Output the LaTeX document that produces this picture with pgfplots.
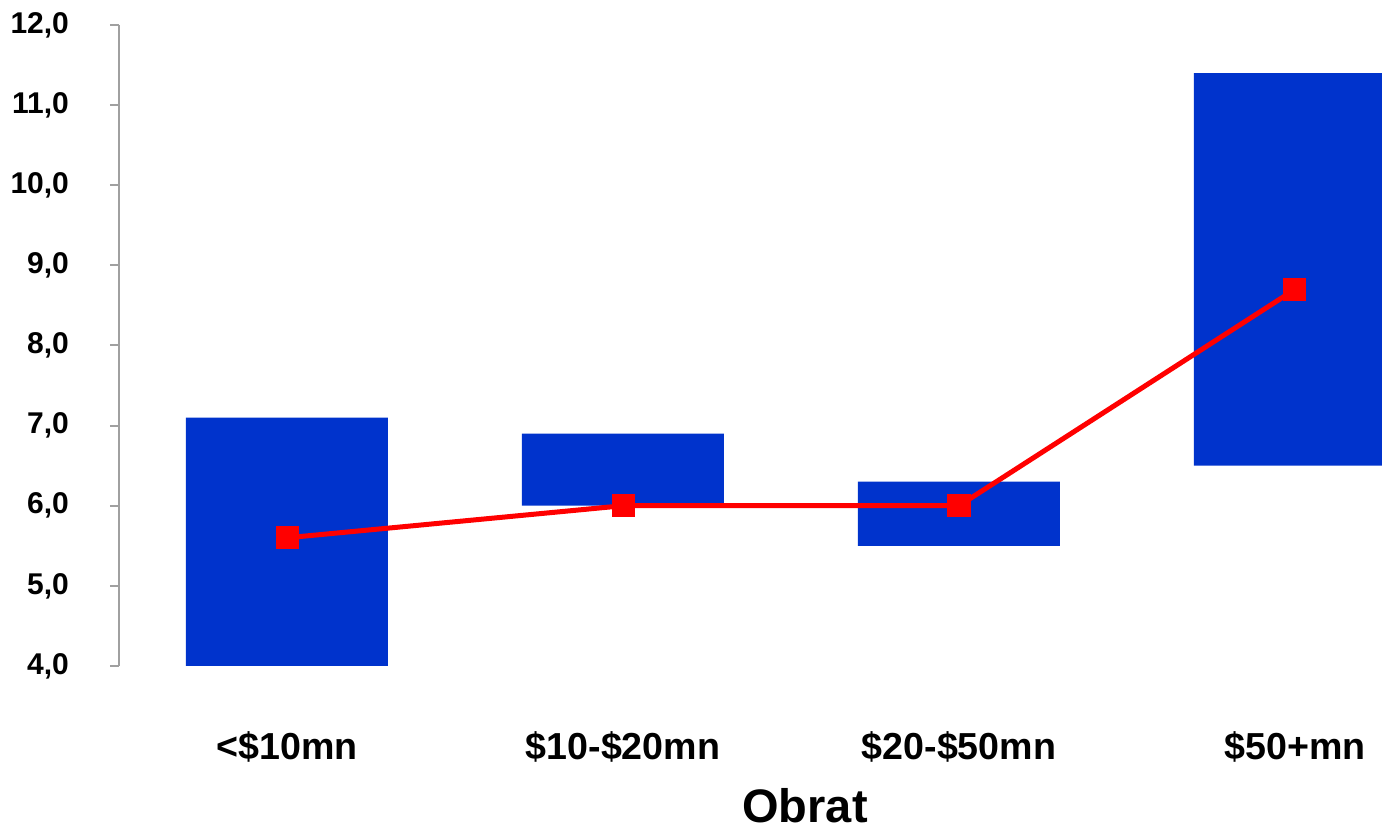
\documentclass[border=0pt]{standalone}
\usepackage{pgfplots}
\pgfplotsset{compat=1.18}
\usepackage{fontspec}
\setmainfont{Liberation Sans}
\definecolor{barblue}{RGB}{0,51,204}
\definecolor{axgray}{RGB}{160,160,160}
\begin{document}
\begin{tikzpicture}
\begin{axis}[name=main,
  scale only axis, width=631.5pt, height=320.5pt,
  xmin=-0.5, xmax=3.259, ymin=4, ymax=12,
  ybar stacked, bar width=101pt,
  axis y line*=left, axis x line*=bottom,
  x axis line style={draw=none},
  y axis line style={draw=axgray, line width=1pt},
  ytick={4,5,...,12},
  ytick style={draw=axgray, line width=1pt},
  tick align=outside, major tick length=4.5pt,
  xtick={0,1,2,3},
  xticklabels={{<\$10mn},{\$10-\$20mn},{\$20-\$50mn},{\$50+mn}},
  xtick style={draw=none},
  xticklabel style={font=\fontsize{18.8}{21}\selectfont\bfseries, anchor=center, yshift=-36pt},
  yticklabel style={font=\fontsize{15}{17}\selectfont\bfseries, anchor=east, xshift=-17pt},
  /pgf/number format/.cd, fixed, fixed zerofill, precision=1, use comma, assume math mode=true,
]
\addplot[draw=none, fill=none] coordinates {(0,4) (1,6) (2,5.5) (3,6.5)};
\addplot[draw=none, fill=barblue] coordinates {(0,3.1) (1,0.9) (2,0.8) (3,4.9)};
\end{axis}
\begin{axis}[
  scale only axis, width=631.5pt, height=320.5pt,
  xmin=-0.5, xmax=3.259, ymin=4, ymax=12,
  hide axis,
]
\addplot[red, line width=2.5pt, mark=square*, mark size=5.25pt, mark options={solid, fill=red, line width=1pt, rounded corners=1.5pt}] coordinates {(0,5.6) (1,6.0) (2,6.0) (3,8.7)};
\end{axis}
\node[font=\fontsize{23.5}{26}\selectfont\bfseries, anchor=center, inner sep=0pt] at ([xshift=343pt, yshift=-70pt]main.south west) {Obrat};
\pgfresetboundingbox
\path ([xshift=-59.5pt, yshift=-82.5pt]main.south west) rectangle ([yshift=12.5pt]main.north east);
\end{tikzpicture}
\end{document}
